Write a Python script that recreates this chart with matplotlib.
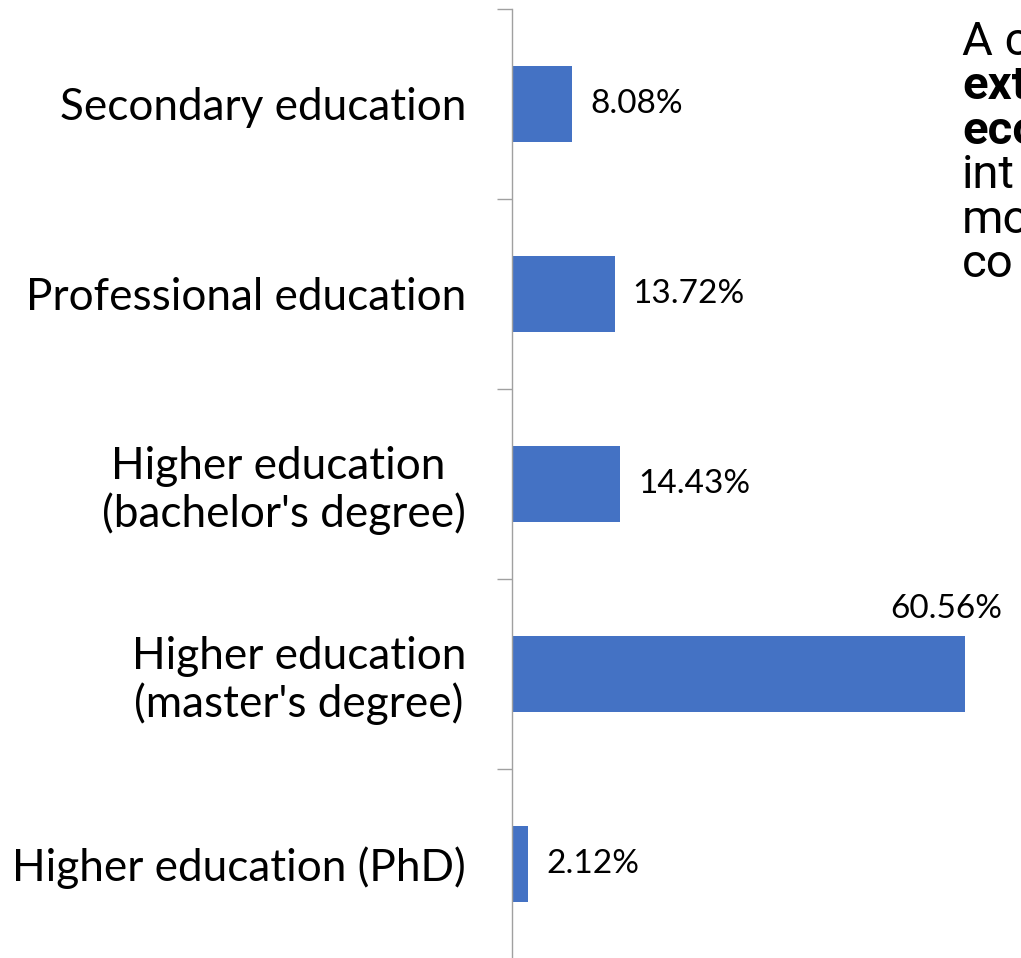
import matplotlib
matplotlib.use("Agg")
import matplotlib.pyplot as plt

# Share of respondents by level of education
categories = [
    "Secondary education",
    "Professional education",
    "Higher education \n(bachelor's degree)",
    "Higher education\n(master's degree)",
    "Higher education (PhD)",
]
shares = [8.08, 13.72, 14.43, 60.56, 2.12]
value_labels = ["8.08%", "13.72%", "14.43%", "60.56%", "2.12%"]

# partly hidden side note (cut off at the right edge in the source)
note_lines = ["A co", "ext", "eco", "int", "mo", "co"]
note_bold = [False, True, True, False, False, False]

BAR_COLOR = "#4472C4"
AXIS_COLOR = "#a0a0a0"
LABEL_FONT = ["Lato", "DejaVu Sans"]

W, H = 1021, 958
fig = plt.figure(figsize=(W / 100, H / 100), dpi=100)
ax = fig.add_axes([512 / W, -1 / H, 488 / W, 950 / H])

pos = list(range(len(categories)))
ax.barh(pos, shares, height=0.395, color=BAR_COLOR)
ax.set_xlim(0, 65.2)
ax.set_ylim(len(categories) - 0.5, -0.5)

for s in ["top", "right", "bottom"]:
    ax.spines[s].set_visible(False)
ax.spines["left"].set_color(AXIS_COLOR)
ax.spines["left"].set_linewidth(1.0)
ax.set_xticks([])

ax.set_yticks(pos)
ax.set_yticklabels(categories, fontsize=31.8, family=LABEL_FONT, linespacing=1.15)
for lbl in ax.get_yticklabels():
    lbl.set_multialignment("center")
ax.set_yticks([p - 0.5 for p in pos] + [len(pos) - 0.5], minor=True)
ax.tick_params(axis="y", which="major", length=0, pad=33)
ax.tick_params(axis="y", which="minor", length=11, width=1.0, color=AXIS_COLOR, direction="out")

# data labels
for i, (v, txt) in enumerate(zip(shares, value_labels)):
    if v > 50:
        ax.annotate(txt, xy=(v, i - 0.1975), xytext=(-14, 13), textcoords="offset points",
                    ha="center", va="baseline", fontsize=24, family=LABEL_FONT,
                    annotation_clip=False)
    else:
        ax.annotate(txt, xy=(v, i), xytext=(13, 0), textcoords="offset points",
                    ha="left", va="center", fontsize=24, family=LABEL_FONT)

# overlapping text box on the right
baselines = [55, 99, 144, 188, 233, 277]
for line, bold, yb in zip(note_lines, note_bold, baselines):
    fig.text(962 / W, 1 - yb / H, line, fontsize=34, family=["Roboto", "DejaVu Sans"],
             fontweight="bold" if bold else "normal", ha="left", va="baseline")

fig.savefig("out.png", dpi=100)
